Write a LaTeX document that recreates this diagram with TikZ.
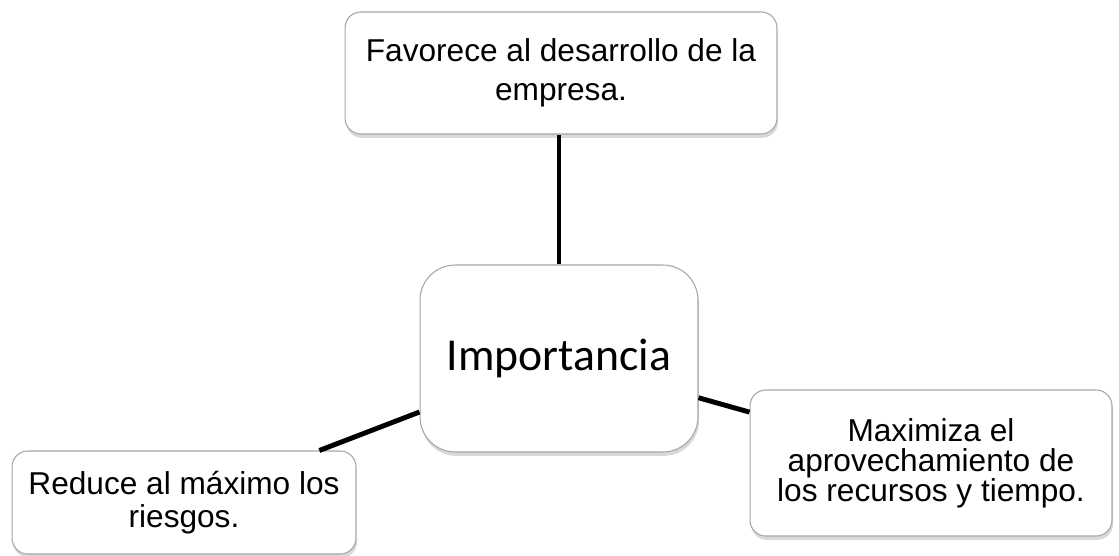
\documentclass[tikz,border=0pt]{standalone}
\usepackage{fontspec}
\setmainfont{Liberation Sans}
\newfontfamily\calibrifont{Carlito}
\usetikzlibrary{shadows}

\begin{document}
\begin{tikzpicture}[
    x=0.02cm, y=-0.02cm,
    idea/.style={rectangle, rounded corners=9pt, draw=gray!70, fill=white, line width=0.6pt,
        align=center, font=\fontsize{18}{17}\selectfont,
        drop shadow={shadow xshift=0.6pt, shadow yshift=-2.2pt, opacity=0.3}},
    hub/.style={idea, rounded corners=20pt, font=\calibrifont\fontsize{26}{30}\selectfont},
    link/.style={line width=2.8pt, black}
]
\useasboundingbox (0,0) rectangle (1119,555);

% Nodes
\node[hub, minimum width=5.56cm, minimum height=3.74cm] (imp) at (559,358.5) {Importancia};
\node[idea, minimum width=8.64cm, minimum height=2.44cm, font=\fontsize{18}{22}\selectfont] (desarrollo) at (561,73) {Favorece al desarrollo de la\\empresa.};
\node[idea, minimum width=7.24cm, minimum height=2.92cm] (recursos) at (931,463) {Maximiza el\\aprovechamiento de\\los recursos y tiempo.};
\node[idea, minimum width=6.88cm, minimum height=2.06cm, font=\fontsize{18}{18.5}\selectfont] (riesgos) at (184,502.5) {Reduce al m\'aximo los\\riesgos.};

% Edges
\draw[link] (imp.north) -- (imp.north |- desarrollo.south);
\draw[link] (imp) -- (recursos);
\draw[link] (imp) -- (riesgos);

\end{tikzpicture}
\end{document}
